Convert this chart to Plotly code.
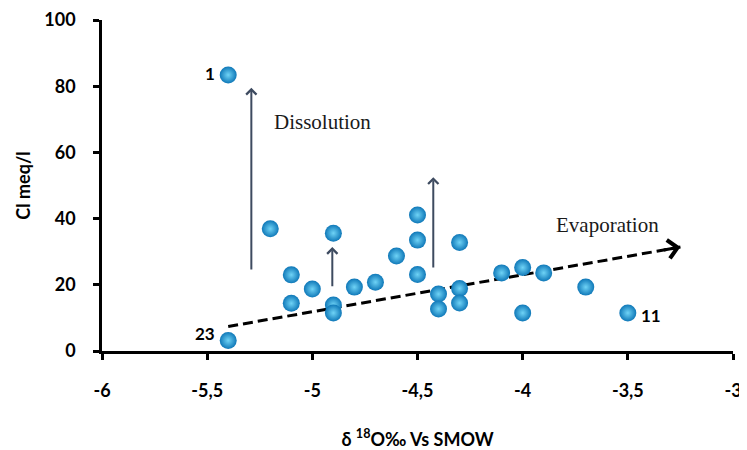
import plotly.graph_objects as go

# ---- data ----
d18o = [-5.4, -5.4, -5.2, -5.1, -5.1, -5.0, -4.9, -4.9, -4.9, -4.8, -4.7, -4.6,
        -4.5, -4.5, -4.5, -4.4, -4.4, -4.3, -4.3, -4.3, -4.1, -4.0, -4.0, -3.9,
        -3.7, -3.5]
cl = [83.4, 3.2, 36.9, 23.0, 14.4, 18.7, 35.6, 13.9, 11.5, 19.3, 20.8, 28.7,
      41.1, 33.5, 23.1, 17.2, 12.7, 32.8, 18.9, 14.5, 23.6, 25.2, 11.5, 23.6,
      19.3, 11.5]

x_tickvals = [-6, -5.5, -5, -4.5, -4, -3.5, -3]
x_ticktext = ["-6", "-5,5", "-5", "-4,5", "-4", "-3,5", "-3"]
y_tickvals = [0, 20, 40, 60, 80, 100]

# labelled samples: (label, x, y)
sample_labels = [("1", -5.4, 83.4), ("23", -5.4, 3.2), ("11", -3.5, 11.5)]

# dissolution arrows: (x, y_tail, y_head)
dissolution_arrows = [(-5.29, 24.2, 79.5), (-4.905, 19.1, 31.4), (-4.425, 24.8, 52.5)]
# evaporation trend: start and end
evap_x = [-5.40, -3.25]
evap_y = [7.4, 31.4]

fig = go.Figure()

fig.add_trace(go.Scatter(
    x=evap_x, y=evap_y, mode="lines",
    line=dict(color="black", width=3, dash="10px,5px"),
    hoverinfo="skip", showlegend=False))

fig.add_trace(go.Scatter(
    x=d18o, y=cl, mode="markers",
    marker=dict(size=17, color="#0f78b8",
                gradient=dict(type="radial", color="#6fd3f6"),
                line=dict(width=0)),
    showlegend=False))

annotations = []
# evaporation arrow head
fx = evap_x[1] - 0.04 * (evap_x[1] - evap_x[0])
fy = evap_y[1] - 0.04 * (evap_y[1] - evap_y[0])
annotations.append(dict(x=evap_x[1], y=evap_y[1], ax=fx, ay=fy, xref="x", yref="y",
                        axref="x", ayref="y", showarrow=True, arrowhead=4,
                        arrowsize=1.2, arrowwidth=3, arrowcolor="black", text="",
                        standoff=0))
for xa, y0, y1 in dissolution_arrows:
    annotations.append(dict(x=xa, y=y1, ax=xa, ay=y0, xref="x", yref="y",
                            axref="x", ayref="y", showarrow=True, arrowhead=4,
                            arrowsize=1.0, arrowwidth=2, arrowcolor="#3e4b60",
                            text="", standoff=0))

serif = dict(family="Liberation Serif, Times New Roman, serif", size=21, color="#1a1a1a")
annotations.append(dict(x=-4.953, y=69.2, xref="x", yref="y", text="Dissolution",
                        showarrow=False, font=serif))
annotations.append(dict(x=-3.598, y=38.1, xref="x", yref="y", text="Evaporation",
                        showarrow=False, font=serif))

bold = dict(family="Lato, Open Sans, sans-serif", size=17, color="black", weight="bold")
offsets = {"1": (-11, 1, "right"), "23": (-11, 7, "right"), "11": (11, -3, "left")}
for lab, lx, ly in sample_labels:
    xs, ys, anc = offsets[lab]
    annotations.append(dict(x=lx, y=ly, xref="x", yref="y", text=lab, showarrow=False,
                            xanchor=anc, xshift=xs, yshift=ys, font=bold))

tickfont = dict(family="Lato, Open Sans, sans-serif", size=18, color="black", weight="bold")

# the page body adds an 8px offset, so the figure is 8px smaller than the window
fig.update_layout(
    width=739, height=442,
    margin=dict(l=94, r=14, t=12, b=99),
    plot_bgcolor="white", paper_bgcolor="white",
    annotations=annotations,
    xaxis=dict(range=[-6, -3], tickvals=x_tickvals, ticktext=x_ticktext,
               automargin=False, ticklabeloverflow="allow",
               showline=True, linecolor="black", linewidth=2.5,
               ticks="outside", ticklen=6, tickwidth=2.5, tickcolor="black",
               showgrid=False, zeroline=False, tickfont=tickfont,
               ticklabelstandoff=16,
               title=dict(text="δ <sup>18</sup>O‰ Vs SMOW", font=tickfont, standoff=36)),
    yaxis=dict(range=[0, 100], tickvals=y_tickvals,
               automargin=False, ticklabeloverflow="allow",
               showline=True, linecolor="black", linewidth=2.5,
               ticks="outside", ticklen=6, tickwidth=2.5, tickcolor="black",
               showgrid=False, zeroline=False, tickfont=tickfont,
               ticklabelstandoff=14,
               title=dict(text="Cl meq/l", font=tickfont, standoff=10)),
)

fig.write_html("out.html")
